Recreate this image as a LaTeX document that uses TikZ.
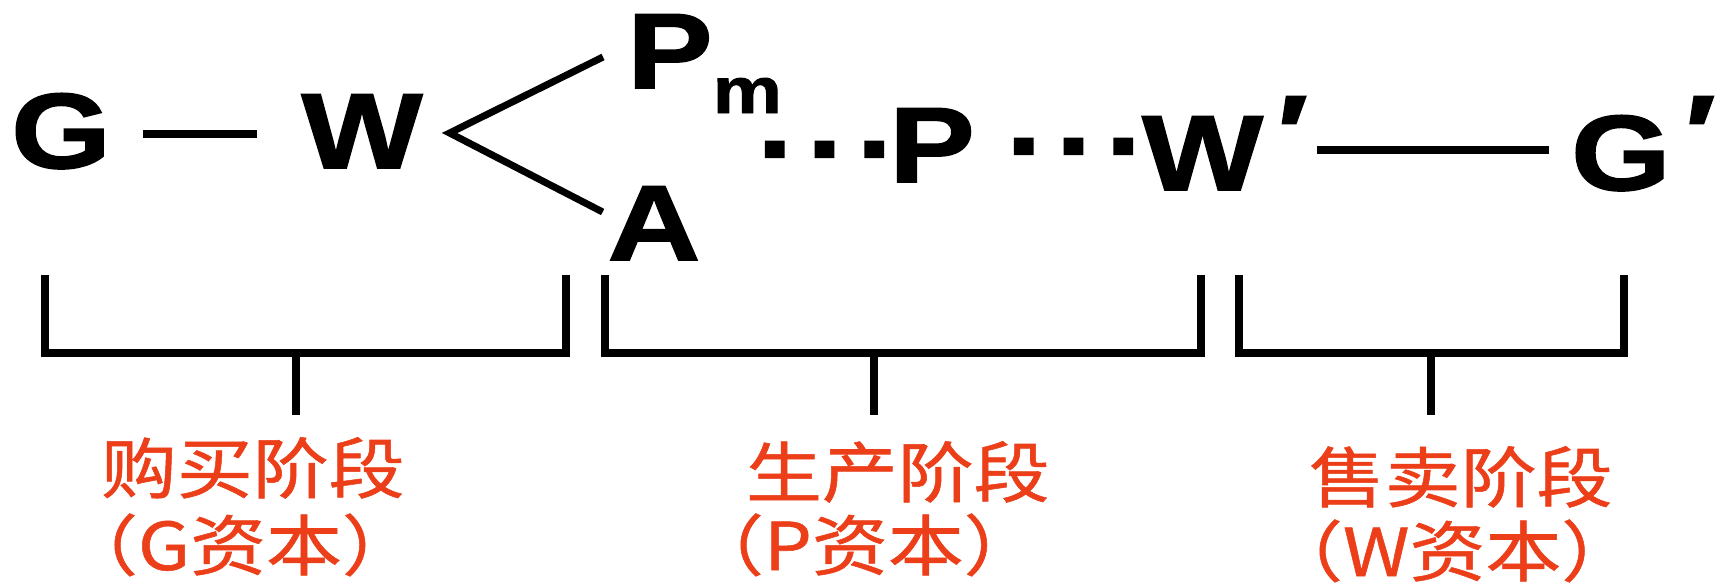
\documentclass[tikz,border=0pt]{standalone}
\usepackage{fontspec}
\newfontfamily\latf{Liberation Sans}[FakeStretch=1.2,FakeBold=1.5]
\newfontfamily\cjk{Noto Sans CJK SC}[FakeStretch=1.15,FakeBold=0.8]
\usetikzlibrary{calc}
\definecolor{lblred}{RGB}{235,62,25}
\newcommand{\primemark}{\kern14pt\raisebox{20pt}{′}}
\begin{document}
\begin{tikzpicture}[x=1pt,y=-1pt,
  sym/.style={inner sep=0pt, outer sep=0pt, font=\latf\bfseries\fontsize{107}{110}\selectfont},
  lbl/.style={inner sep=0pt, outer sep=0pt, text=lblred, font=\cjk\fontsize{66}{70}\selectfont, anchor=base west},
  thickline/.style={line width=8pt},
  forkline/.style={line width=7pt},
  bracket/.style={line width=8.5pt, line cap=butt, line join=miter}]
\useasboundingbox (0,0) rectangle (1722,584);
% formula
\node[sym, anchor=base] (G) at (61,168) {G};
\node[sym, anchor=base] (W) at (362,168) {W};
\node[sym, anchor=base west] (Pm) at (627,88) {P\raisebox{-25pt}{\fontsize{65}{65}\selectfont m}};
\node[sym, anchor=base] (A) at (654,260) {A};
\node[sym, anchor=base] (d1) at (828,185) {·\kern7pt·\kern7pt·};
\node[sym, anchor=base] (P) at (932,182) {P};
\node[sym, anchor=base] (d2) at (1077,182) {·\kern7pt·\kern7pt·};
\node[sym, anchor=base west] (Wp) at (1142,190) {W\primemark};
\node[sym, anchor=base west] (Gp) at (1571,190) {G\primemark};
% connectors
\draw[thickline] ([xshift=32pt,yshift=34pt]G.base east) -- ([xshift=-44pt,yshift=34pt]W.base west);
\coordinate (fv) at ([xshift=27pt,yshift=35pt]W.base east);
\draw[forkline] ([xshift=-24pt,yshift=31pt]Pm.base west) -- (fv) -- ([xshift=-5pt,yshift=48pt]A.base west);
\draw[thickline] ([xshift=175pt,yshift=40pt]Wp.base west) -- ([xshift=-22pt,yshift=40pt]Gp.base west);
% brackets
\draw[bracket] (45,275) -- (45,353) -- (566,353) -- (566,275);
\draw[bracket] (296,353) -- (296,415);
\draw[bracket] (605,275) -- (605,353) -- (1201,353) -- (1201,275);
\draw[bracket] (874,353) -- (874,415);
\draw[bracket] (1239,275) -- (1239,353) -- (1624,353) -- (1624,275);
\draw[bracket] (1431,353) -- (1431,415);
% labels
\node[lbl] (buy1) at (101,493) {购买阶段};
\node[lbl] (buy2) at (62,570) {（G资本）};
\node[lbl] (pro1) at (746,497) {生产阶段};
\node[lbl] (pro2) at (688,570) {（P资本）};
\node[lbl] (sel1) at (1309,502) {售卖阶段};
\node[lbl] (sel2) at (1267,576) {（W资本）};
\end{tikzpicture}
\end{document}
